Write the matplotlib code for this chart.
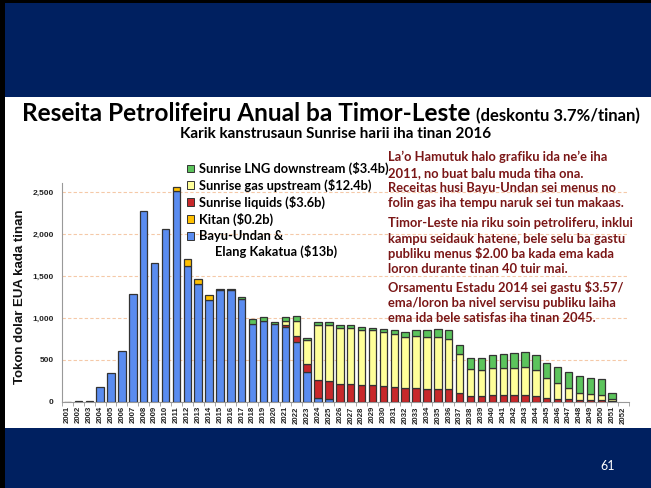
import matplotlib
matplotlib.use("Agg")
import matplotlib.pyplot as plt
from matplotlib.patches import Rectangle
import numpy as np

W, H = 651, 488

years = [str(y) for y in range(2001, 2053)]

bayu_undan = [3, 8, 12, 175, 340, 610, 1290, 2270, 1655, 2065, 2510, 1615, 1410,
              1210, 1330, 1330, 1225, 930, 960, 925, 890, 720, 362, 50, 30] + [0] * 27
kitan = [0] * 10 + [45, 90, 50, 60] + [0] * 38
sunrise_liquids = [0] * 20 + [28, 65, 95, 210, 215, 213, 210, 198, 198, 186, 174, 162,
                              162, 158, 154, 150, 103, 73, 75, 79, 79, 79, 79, 75, 52,
                              40, 32, 24, 20, 20, 10, 0]
sunrise_upstream = [0] * 20 + [50, 180, 280, 660, 675, 672, 675, 663, 655, 647, 632, 608,
                               620, 616, 620, 597, 470, 315, 306, 322, 330, 330, 334, 302,
                               230, 190, 131, 79, 75, 63, 30, 0]
sunrise_downstream = [0] * 14 + [12, 12, 25, 60, 48, 30, 40, 55, 30, 30, 30, 27, 27, 32,
                                 32, 32, 47, 63, 79, 87, 95, 114, 110, 137, 147, 159, 163,
                                 179, 183, 187, 186, 183, 190, 211, 191, 191, 67, 0]

series = [
    ("Bayu-Undan &\nElang Kakatua ($13b)", bayu_undan, "#5A8CF0"),
    ("Kitan ($0.2b)", kitan, "#FFC000"),
    ("Sunrise liquids ($3.6b)", sunrise_liquids, "#C8282A"),
    ("Sunrise gas upstream ($12.4b)", sunrise_upstream, "#FFFF99"),
    ("Sunrise LNG downstream ($3.4b)", sunrise_downstream, "#5CC45C"),
]

fig = plt.figure(figsize=(W / 100, H / 100), dpi=100)
fig.patch.set_facecolor("white")

def fx(x):
    return x / W

def fy(y):
    return 1 - y / H

# slide background bands
fig.patches.append(Rectangle((0, fy(97)), 1, fy(0) - fy(97), transform=fig.transFigure,
                             facecolor="#002060", edgecolor="none", zorder=0))
fig.patches.append(Rectangle((0, 0), 1, fy(428), transform=fig.transFigure,
                             facecolor="#002060", edgecolor="none", zorder=0))
fig.patches.append(Rectangle((0, fy(3)), 1, fy(0) - fy(3), transform=fig.transFigure,
                             facecolor="black", edgecolor="none", zorder=1))
fig.patches.append(Rectangle((0, 0), fx(5), 1, transform=fig.transFigure,
                             facecolor="black", edgecolor="none", zorder=1))

ax = fig.add_axes([fx(62), fy(402), fx(628.5) - fx(62), fy(183) - fy(402)])
ax.set_facecolor("none")

x = np.arange(len(years))
bottom = np.zeros(len(years))
for label, vals, col in series:
    v = np.array(vals, dtype=float)
    m = v > 0
    ax.bar(x[m], v[m], bottom=bottom[m], width=0.68, color=col,
           edgecolor="#333333", linewidth=0.9, zorder=3)
    bottom += v

ax.set_xlim(-0.5, len(years) - 0.5)
ax.set_ylim(0, 2607)
ax.set_yticks([0, 500, 1000, 1500, 2000, 2500])
ax.set_yticklabels(["0", "500", "1,000", "1,500", "2,000", "2,500"],
                   fontsize=6, fontweight="bold", family="Liberation Sans", color="#222222")
ax.tick_params(axis="y", length=0, pad=6)
ax.set_xticks(x)
ax.set_xticklabels(years, rotation=90, fontsize=5.6, family="Liberation Sans",
                   fontweight="bold", color="#222222")
ax.tick_params(axis="x", length=0, pad=3)
ax.set_xticks(np.arange(-0.5, len(years), 1), minor=True)
ax.tick_params(axis="x", which="minor", length=3, color="#999999")
ax.grid(axis="y", color="#F5C9A8", linestyle=(0, (3, 2)), linewidth=0.8, zorder=0)
for s in ["top", "right"]:
    ax.spines[s].set_visible(False)
ax.spines["left"].set_color("#999999")
ax.spines["bottom"].set_color("#999999")
ax.set_ylabel("Tokon dolar EUA kada tinan", fontsize=9.5, fontweight="bold",
              family="Liberation Sans", color="#111111")
ax.yaxis.set_label_coords(-(62 - 26) / (628.5 - 62), (402 - 297) / (402 - 183))

# titles
fig.text(fx(22), fy(121), "Reseita Petrolifeiru Anual ba Timor-Leste", fontsize=17.6,
         family="Lato", fontweight="bold", va="baseline", ha="left", color="black")
fig.text(fx(640), fy(121), "(deskontu 3.7%/tinan)", fontsize=12, family="Lato",
         fontweight="bold", va="baseline", ha="right", color="black")
fig.text(fx(336), fy(134), "Karik kanstrusaun Sunrise harii iha tinan 2016", fontsize=11,
         family="Lato", fontweight="bold", va="center", ha="center", color="black")

# legend (manual, top entry first)
leg_rows = [(4, 168), (3, 185), (2, 202), (1, 219), (0, 236)]
for idx, ypx in leg_rows:
    label, _, col = series[idx]
    fig.patches.append(Rectangle((fx(187), fy(ypx + 3.5)), fx(7), fy(ypx - 3.5) - fy(ypx + 3.5),
                                 transform=fig.transFigure, facecolor=col,
                                 edgecolor="#333333", linewidth=0.7, zorder=5))
    parts = label.split("\n")
    fig.text(fx(199), fy(ypx), parts[0], fontsize=9.3, family="Lato", fontweight="bold",
             va="center", color="black")
    if len(parts) > 1:
        fig.text(fx(215), fy(ypx + 15), parts[1], fontsize=9.3, family="Lato",
                 fontweight="bold", va="center", color="black")

# annotation block
red = "#7A1616"
lines = [
    ("La\u2019o Hamutuk halo grafiku ida ne\u2019e iha", 157),
    ("2011, no buat balu muda tiha ona.", 173),
    ("Receitas husi Bayu-Undan sei menus no", 188),
    ("folin gas iha tempu naruk sei tun makaas.", 203),
    ("Timor-Leste nia riku soin petroliferu, inklui", 223),
    ("kampu seidauk hatene, bele selu ba gastu", 239),
    ("publiku menus $2.00 ba kada ema kada", 254),
    ("loron durante tinan 40 tuir mai.", 269),
    ("Orsamentu Estadu 2014 sei gastu $3.57/", 288),
    ("ema/loron ba nivel servisu publiku laiha", 303),
    ("ema ida bele satisfas iha tinan 2045.", 318),
]
for t, ypx in lines:
    fig.text(fx(388), fy(ypx), t, fontsize=9.3, family="Lato", fontweight="bold",
             va="center", ha="left", color=red, zorder=6)

fig.text(fx(608), fy(466), "61", fontsize=9, family="Lato", color="white",
         va="center", ha="center")

fig.savefig("out.png", dpi=100)
